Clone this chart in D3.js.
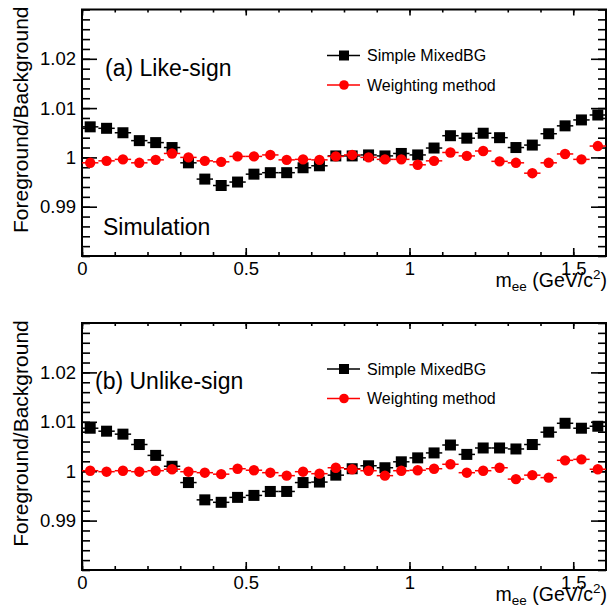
<!DOCTYPE html>
<html><head><meta charset="utf-8">
<script src="https://cdn.jsdelivr.net/npm/d3@7"></script>
<style>body{margin:0;background:#fff}svg{display:block}text{font-family:"Liberation Sans",Arial,Helvetica,sans-serif}</style>
</head><body><div id="chart"></div>
<script>
const massBins = [0.025,0.075,0.125,0.175,0.225,0.275,0.325,0.375,0.425,0.475,0.525,0.575,0.625,0.675,0.725,0.775,
                  0.825,0.875,0.925,0.975,1.025,1.075,1.125,1.175,1.225,1.275,1.325,1.375,1.425,1.475,1.525,1.575];
const binHalfWidth = 0.025;
const likeMixedBG = [1.0062,1.0059,1.0050,1.0034,1.0030,1.0020,0.9989,0.9956,0.9943,0.9950,0.9966,0.9969,0.9969,0.9979,0.9983,1.0003,
                     1.0003,1.0005,1.0003,1.0008,1.0005,1.0019,1.0044,1.0039,1.0049,1.0040,1.0020,1.0025,1.0048,1.0064,1.0076,1.0086];
const likeWeighting = [0.9989,0.9993,0.9996,0.9989,0.9995,1.0008,1.0000,0.9993,0.9991,1.0002,1.0002,1.0005,0.9995,0.9996,0.9995,1.0002,
                       1.0005,1.0000,0.9996,0.9996,0.9985,0.9993,1.0010,1.0003,1.0013,0.9992,0.9989,0.9968,0.9989,1.0007,0.9996,1.0023];
const unlikeMixedBG = [1.0087,1.0081,1.0075,1.0054,1.0032,1.0010,0.9977,0.9942,0.9937,0.9947,0.9951,0.9959,0.9959,0.9977,0.9978,0.9992,
                       1.0005,1.0011,1.0007,1.0019,1.0027,1.0037,1.0053,1.0034,1.0047,1.0047,1.0045,1.0054,1.0079,1.0097,1.0087,1.0091];
const unlikeWeighting = [1.0001,0.9999,1.0001,0.9999,1.0001,1.0004,0.9999,0.9997,0.9994,1.0005,1.0002,0.9997,0.9991,0.9999,0.9995,1.0007,
                         1.0004,1.0001,0.9991,1.0001,1.0002,1.0005,1.0014,0.9997,1.0001,1.0007,0.9984,0.9992,0.9987,1.0022,1.0024,1.0004];
const xDomain = [0, 1.6];
const yDomain = [0.98, 1.03];
const xMajorTicks = [0, 0.5, 1, 1.5];
const xTickLabels = ["0", "0.5", "1", "1.5"];
const yMajorTicks = [0.99, 1.00, 1.01, 1.02];
const yTickLabels = ["0.99", "1", "1.01", "1.02"];
const seriesNames = ["Simple MixedBG", "Weighting method"];
const panelLabels = ["(a) Like-sign", "(b) Unlike-sign"];
const yTitle = "Foreground/Background";

const W = 610, H = 606;
const svg = d3.select("#chart").append("svg").attr("width", W).attr("height", H);
const xMinor = d3.range(0, 16).map(i => +(i * 0.1).toFixed(2));
const yMinor = d3.range(0, 26).map(i => +(0.98 + i * 0.002).toFixed(3));

const panels = [
  {top: 9.5, bottom: 256, label: panelLabels[0], labelX: 105, labelY: 76, sim: true, black: likeMixedBG, red: likeWeighting},
  {top: 323, bottom: 570, label: panelLabels[1], labelX: 95, labelY: 389, sim: false, black: unlikeMixedBG, red: unlikeWeighting}
];
const L = 82, R = 606;
const x = d3.scaleLinear().domain(xDomain).range([L, R]);

panels.forEach(p => {
  const g = svg.append("g");
  const y = d3.scaleLinear().domain(yDomain).range([p.bottom, p.top]);
  const styleAxis = sel => { sel.select(".domain").remove(); sel.selectAll("line").attr("stroke", "#000").attr("stroke-width", 1.6); sel.selectAll("text").attr("font-size", 18.5).attr("fill", "#000").style("font-family", '"Liberation Sans",Arial,sans-serif'); };
  // minor ticks
  g.append("g").attr("transform", `translate(${L},0)`).call(d3.axisLeft(y).tickValues(yMinor).tickSize(-8).tickFormat("")).call(styleAxis);
  g.append("g").attr("transform", `translate(${R},0)`).call(d3.axisRight(y).tickValues(yMinor).tickSize(-8).tickFormat("")).call(styleAxis);
  g.append("g").attr("transform", `translate(0,${p.bottom})`).call(d3.axisBottom(x).tickValues(xMinor).tickSize(-4).tickFormat("")).call(styleAxis);
  g.append("g").attr("transform", `translate(0,${p.top})`).call(d3.axisTop(x).tickValues(xMinor).tickSize(-3).tickFormat("")).call(styleAxis);
  // major ticks
  g.append("g").attr("transform", `translate(${L},0)`).call(d3.axisLeft(y).tickValues(yMajorTicks).tickSize(-15).tickPadding(6).tickFormat((d, i) => yTickLabels[i])).call(styleAxis);
  g.append("g").attr("transform", `translate(${R},0)`).call(d3.axisRight(y).tickValues(yMajorTicks).tickSize(-15).tickFormat("")).call(styleAxis);
  g.append("g").attr("transform", `translate(0,${p.bottom})`).call(d3.axisBottom(x).tickValues(xMajorTicks).tickSize(-8).tickPadding(6).tickFormat((d, i) => xTickLabels[i])).call(styleAxis);
  g.append("g").attr("transform", `translate(0,${p.top})`).call(d3.axisTop(x).tickValues(xMajorTicks).tickSize(-6).tickFormat("")).call(styleAxis);
  // frame
  g.append("rect").attr("x", L).attr("y", p.top).attr("width", R - L).attr("height", p.bottom - p.top)
    .attr("fill", "none").attr("stroke", "#000").attr("stroke-width", 2);

  const drawSeries = (vals, color, shape) => {
    const s = g.append("g");
    s.selectAll("line.eb").data(vals).join("line")
      .attr("x1", (d, i) => x(massBins[i] - binHalfWidth)).attr("x2", (d, i) => x(massBins[i] + binHalfWidth))
      .attr("y1", d => y(d)).attr("y2", d => y(d)).attr("stroke", color).attr("stroke-width", 1.5);
    if (shape === "square") {
      s.selectAll("rect").data(vals).join("rect")
        .attr("x", (d, i) => x(massBins[i]) - 5.5).attr("y", d => y(d) - 5.5).attr("width", 11).attr("height", 11).attr("fill", color);
    } else {
      s.selectAll("circle").data(vals).join("circle")
        .attr("cx", (d, i) => x(massBins[i])).attr("cy", d => y(d)).attr("r", 5.2).attr("fill", color);
    }
  };
  drawSeries(p.black, "#000", "square");
  drawSeries(p.red, "#ff0000", "circle");

  // legend
  const legY = [p.top + 46, p.top + 75.5];
  [["#000", "square"], ["#ff0000", "circle"]].forEach((c, i) => {
    g.append("line").attr("x1", 327).attr("x2", 360).attr("y1", legY[i]).attr("y2", legY[i]).attr("stroke", c[0]).attr("stroke-width", 1.5);
    if (c[1] === "square") g.append("rect").attr("x", 344 - 5).attr("y", legY[i] - 5).attr("width", 10).attr("height", 10).attr("fill", c[0]);
    else g.append("circle").attr("cx", 344).attr("cy", legY[i]).attr("r", 4.8).attr("fill", c[0]);
    g.append("text").attr("x", 367).attr("y", legY[i]).attr("dy", "0.36em").attr("font-size", 16).text(seriesNames[i]);
  });

  // labels
  g.append("text").attr("x", p.labelX).attr("y", p.labelY).attr("font-size", 23).text(p.label);
  if (p.sim) g.append("text").attr("x", 103).attr("y", 235).attr("font-size", 23).text("Simulation");

  // y title
  const cy = (p.top + p.bottom) / 2 - 13;
  g.append("text").attr("transform", `translate(28,${cy}) rotate(-90)`).attr("text-anchor", "middle")
    .attr("font-size", 21).text(yTitle);

  // x title
  const xt = g.append("text").attr("x", 607).attr("y", p.bottom + 31).attr("text-anchor", "end").attr("font-size", 19.5);
  xt.append("tspan").text("m");
  xt.append("tspan").attr("font-size", 13.5).attr("dy", 4).text("ee");
  xt.append("tspan").attr("dy", -4).text(" (GeV/c");
  xt.append("tspan").attr("font-size", 13.5).attr("dy", -8).text("2");
  xt.append("tspan").attr("dy", 8).text(")");
});
</script></body></html>
